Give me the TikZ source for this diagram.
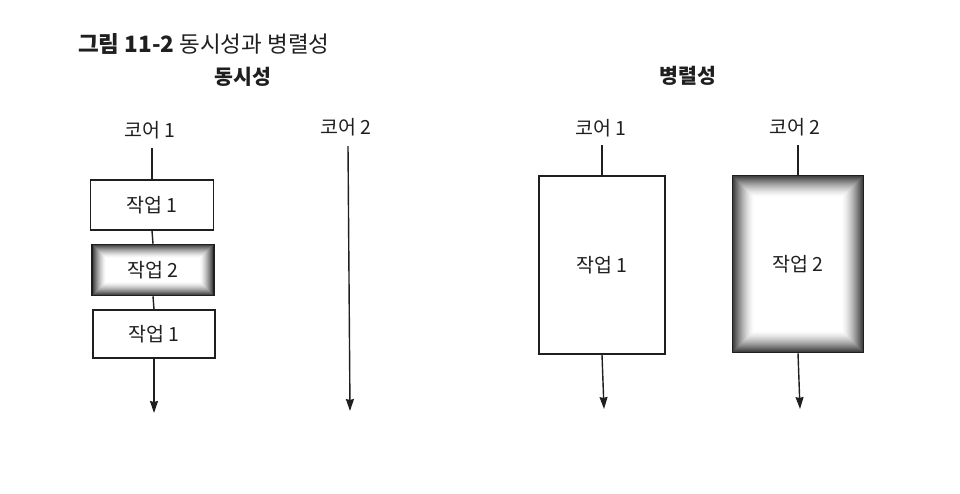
\documentclass[tikz,border=0pt]{standalone}
\usepackage{fontspec}
\setmainfont{Noto Sans CJK KR}
\usetikzlibrary{arrows.meta}
\colorlet{ink}{black!88}
\tikzset{
  lbl/.style={font=\fontsize{19.5}{21}\selectfont, text=ink, inner sep=0pt},
  head/.style={font=\fontsize{20.5}{22}\selectfont\bfseries, text=ink, inner sep=0pt},
  task/.style={draw=ink, line width=1.5pt, rectangle, fill=white, inner sep=0pt,
    font=\fontsize{19.5}{21}\selectfont, text=ink},
  vign/.style={path picture={
    \foreach \i [evaluate=\i as \p using {80*(1-\i/#1)^1.5}] in {0,...,#1}
      \draw[line width=1.3pt, draw=black!\p]
        ([shift={(\i+0.5,\i+0.5)}]path picture bounding box.north west) rectangle
        ([shift={(-\i-0.5,-\i-0.5)}]path picture bounding box.south east);
  }},
  flow/.style={draw=ink, line width=1.4pt},
  arr/.style={flow, -{Stealth[length=12pt,width=8pt,inset=1pt]}}
}
\begin{document}
\begin{tikzpicture}[x=1pt,y=-1pt]
\useasboundingbox (0,0) rectangle (960,493);
% titles
\node[anchor=west, font=\fontsize{22.5}{24}\selectfont, text=ink, inner sep=0pt] (title) at (78,44)
  {\textbf{그림 11-2} 동시성과 병렬성};
\node[head] (hconc) at (243,77) {동시성};
\node[head] (hpar) at (688,76) {병렬성};
% core labels
\node[lbl] (c1L) at (150,130) {코어 1};
\node[lbl] (c2L) at (346,127) {코어 2};
\node[lbl] (c1R) at (601,128) {코어 1};
\node[lbl] (c2R) at (795,127) {코어 2};
% concurrency
\node[task, minimum width=123pt, minimum height=50pt] (b1) at (152,205) {작업 1};
\node[task, vign=14, minimum width=122pt, minimum height=51pt] (b2) at (153,270) {작업 2};
\node[task, minimum width=122pt, minimum height=48pt] (b3) at (154,334) {작업 1};
\coordinate (t1L) at (152,148);
\coordinate (e1L) at (154,413);
\coordinate (t2L) at (348,146);
\coordinate (e2L) at (350,411);
\draw[flow] (t1L) -- (b1.north);
\draw[flow] (b1.south) -- (b2.north);
\draw[flow] (b2.south) -- (b3.north);
\draw[arr] (b3.south) -- (e1L);
\draw[arr] (t2L) -- (e2L);
% parallelism
\node[task, minimum width=126pt, minimum height=178pt] (r1) at (602,265) {작업 1};
\node[task, vign=22, minimum width=131pt, minimum height=177pt] (r2) at (798,264) {작업 2};
\coordinate (t1R) at (602,145);
\coordinate (e1R) at (604,409);
\coordinate (t2R) at (798,145);
\coordinate (e2R) at (800,409);
\draw[flow] (t1R) -- (r1.north);
\draw[arr] (r1.south) -- (e1R);
\draw[flow] (t2R) -- (r2.north);
\draw[arr] (r2.south) -- (e2R);
\end{tikzpicture}
\end{document}
